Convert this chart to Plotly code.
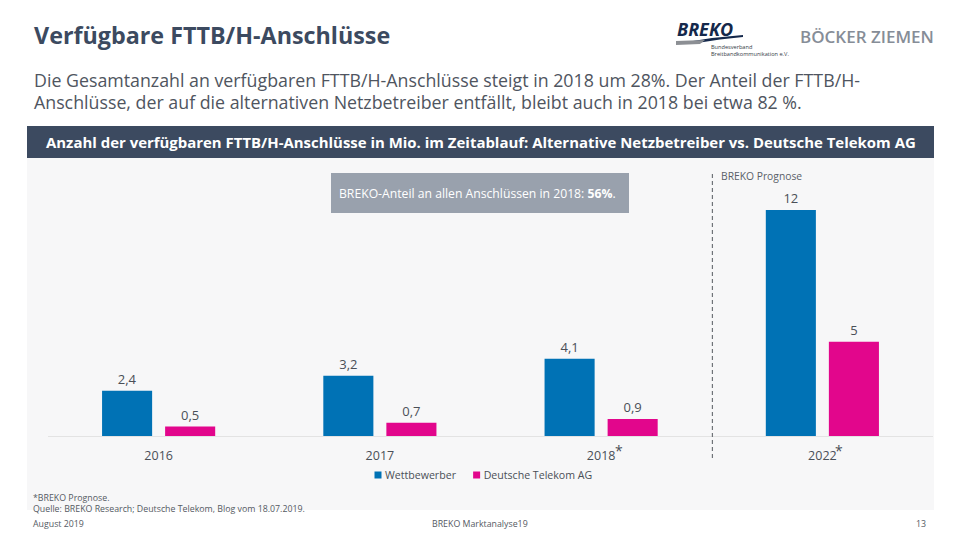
import plotly.graph_objects as go

years = ["2016", "2017", "2018", "2022"]
wettbewerber = [2.4, 3.2, 4.1, 12]
telekom = [0.5, 0.7, 0.9, 5]
series_names = ["Wettbewerber", "Deutsche Telekom AG"]

title = "Verfügbare FTTB/H-Anschlüsse"
intro = ["Die Gesamtanzahl an verfügbaren FTTB/H-Anschlüsse steigt in 2018 um 28%. Der Anteil der FTTB/H-",
         "Anschlüsse, der auf die alternativen Netzbetreiber entfällt, bleibt auch in 2018 bei etwa 82 %."]
banner = "Anzahl der verfügbaren FTTB/H-Anschlüsse in Mio. im Zeitablauf: Alternative Netzbetreiber vs. Deutsche Telekom AG"
callout = "BREKO-Anteil an allen Anschlüssen in 2018: <b>56%</b>."

FONT = "Open Sans"
DARK = "#3c4a60"
TEXT = "#4a4f57"
BLUE = "#0072b5"
PINK = "#e2068c"

# plot area in page pixels
LEFT, RIGHT, TOP, BASE = 48, 933, 165, 436

def px(x):
    return (x - LEFT) / (RIGHT - LEFT)

def py(y):
    return (BASE - y) / (BASE - TOP)

def label(v):
    return f"{v:g}".replace(".", ",")

def note(x, y, text, size, color=TEXT, anchor="left", weight=None):
    return dict(x=px(x), y=py(y), xref="paper", yref="paper", text=text, showarrow=False,
                xanchor=anchor, yanchor="middle", align="left",
                font=dict(family=FONT, size=size, color=color, weight=weight))

def box(x0, y0, x1, y1, color):
    return dict(type="rect", xref="paper", yref="paper", x0=px(x0), x1=px(x1), y0=py(y0), y1=py(y1),
                fillcolor=color, line_width=0, layer="below")

def poly(points, color):
    path = "M " + " L ".join(f"{px(a)} {py(b)}" for a, b in points) + " Z"
    return dict(type="path", xref="paper", yref="paper", path=path, fillcolor=color, line_width=0, layer="below")

fig = go.Figure()
for name, values, color in zip(series_names, [wettbewerber, telekom], [BLUE, PINK]):
    fig.add_trace(go.Bar(x=years, y=values, name=name, marker_color=color, marker_line_width=0,
                         text=[label(v) for v in values], textposition="outside", cliponaxis=False,
                         textfont=dict(family=FONT, size=13, color=TEXT)))

shapes = [
    box(27, 158, 934, 510, "#f7f7f8"),
    box(27, 126, 934, 158, DARK),
    box(331, 173, 629, 213, "#99a1ad"),
    # logo swoosh
    poly([(693, 41), (712, 38), (743, 35), (743, 37), (720, 39.5), (697, 43)], "#14284b"),
    poly([(676, 41), (705, 40), (700, 44), (676, 45)], "#8c8f94"),
    # forecast divider
    dict(type="line", xref="x", yref="paper", x0=2.503, x1=2.503, y0=py(458), y1=py(172),
         line=dict(color="#6f7378", width=1.2, dash="4px,3px")),
]

annotations = [
    note(32, 35, f"<b>{title}</b>", 23.3, DARK),
    note(31.5, 80, intro[0], 17.8, "#4f5560"),
    note(31.5, 102, intro[1], 17.8, "#4f5560"),
    note(480.5, 142, f"<b>{banner}</b>", 14.95, "#ffffff", "center"),
    note(337, 193, callout, 12.2, "#ffffff"),
    note(719, 176, "BREKO Prognose", 10.3, "#5a5f68"),
    note(613, 450, "*", 14, TEXT),
    note(833, 450, "*", 14, TEXT),
    note(31, 503.5, "*BREKO Prognose.<br>Quelle: BREKO Research; Deutsche Telekom, Blog vom 18.07.2019.", 8.8, "#555a63"),
    note(31, 524, "August 2019", 8.8, "#555a63"),
    note(430, 524, "BREKO Marktanalyse19", 8.8, "#555a63"),
    note(928, 524, "13", 8.8, "#555a63", "right"),
    note(675, 29, "<b><i>BREKO</i></b>", 18, "#14284b"),
    note(709, 50, "Bundesverband<br>Breitbandkommunikation e.V.", 5.6, "#333a45"),
    note(798, 36, "BÖCKER ZIEMEN", 17, "#868d97", weight=600),
]

fig.update_layout(
    width=960, height=540,
    margin=dict(l=LEFT, r=960 - RIGHT, t=TOP, b=540 - BASE, pad=0),
    paper_bgcolor="#ffffff", plot_bgcolor="rgba(0,0,0,0)",
    barmode="group", bargap=0.43, bargroupgap=0.206,
    font=dict(family=FONT, color=TEXT),
    shapes=shapes, annotations=annotations,
    legend=dict(orientation="h", x=px(345), xanchor="left", y=py(475), yanchor="middle",
                bgcolor="rgba(0,0,0,0)", font=dict(family=FONT, size=10.6, color=TEXT),
                itemwidth=30, traceorder="normal"),
    xaxis=dict(type="category", showgrid=False, showline=True, linecolor="#e3e3e3", linewidth=1,
               ticks="outside", ticklen=8, tickcolor="rgba(0,0,0,0)",
               tickfont=dict(family=FONT, size=12.5, color=TEXT)),
    yaxis=dict(range=[0, (BASE - TOP) * 12 / 226], visible=False, fixedrange=True),
)

# legend swatches in the reference are small and sit right next to the text,
# and the two entries are closer together than plotly lays them out
post = """
document.body.style.margin = '0';
var gd = document.getElementById('{plot_id}');
function tightLegend() {
    gd.querySelectorAll('.legendsymbols').forEach(function (g) { g.setAttribute('transform', 'translate(13,0)'); });
    gd.querySelectorAll('.legendpoints path').forEach(function (p) { p.setAttribute('d', 'M3.5,3.5H-3.5V-3.5H3.5Z'); });
    var second = gd.querySelectorAll('.legend .traces')[1];
    var m = /translate\\(([-\\d.]+)[, ]+([-\\d.]+)\\)/.exec(second.getAttribute('transform'));
    if (!second.dataset.moved) {
        second.setAttribute('transform', 'translate(' + (parseFloat(m[1]) - 18) + ',' + m[2] + ')');
        second.dataset.moved = '1';
    }
}
gd.on('plotly_afterplot', function () { var s = gd.querySelectorAll('.legend .traces')[1]; delete s.dataset.moved; tightLegend(); });
tightLegend();
"""

fig.write_html("out.html", post_script=post, config=dict(displayModeBar=False))
